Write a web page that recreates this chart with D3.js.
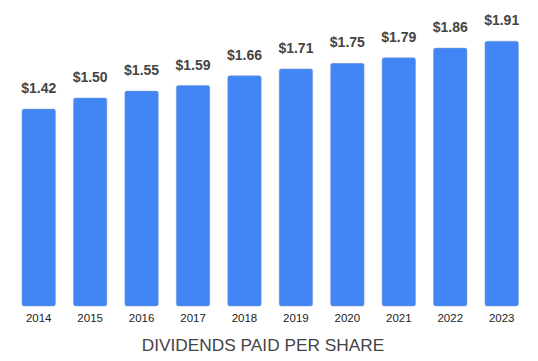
<!DOCTYPE html>
<html>
<head>
<meta charset="utf-8">
<script src="https://cdn.jsdelivr.net/npm/d3@7"></script>
<style>
  body { margin: 0; background: #fff; }
  svg { display: block; font-family: Arial, "Liberation Sans", sans-serif; }
</style>
</head>
<body>
<svg id="canvas" width="538" height="361"></svg>
<script>
// chart data
var years = ['2014', '2015', '2016', '2017', '2018', '2019', '2020', '2021', '2022', '2023'];
var dividends = [1.42, 1.50, 1.55, 1.59, 1.66, 1.71, 1.75, 1.79, 1.86, 1.91];
var chartTitle = 'DIVIDENDS PAID PER SHARE';

var canvas = d3.select('#canvas');
var width = +canvas.attr('width');
var height = +canvas.attr('height');

var baseline = 306;

var xScale = d3.scaleBand()
  .domain(years)
  .range([13, 527.4])
  .paddingInner(0.35)
  .paddingOuter(0.175);

var yScale = d3.scaleLinear()
  .domain([0, 2.2])
  .range([baseline, baseline - 2.2 * 138.65]);

var data = years.map(function(y, i) { return { year: y, value: dividends[i] }; });

// bars
canvas.selectAll('rect.bar')
  .data(data)
  .enter()
  .append('rect')
  .attr('class', 'bar')
  .attr('x', function(d) { return xScale(d.year); })
  .attr('y', function(d) { return yScale(d.value); })
  .attr('width', xScale.bandwidth())
  .attr('height', function(d) { return baseline - yScale(d.value); })
  .attr('rx', 2)
  .style('fill', '#4285F4')
  .style('stroke', '#7a9ad0')
  .style('stroke-width', 0.5);

// value labels with white halo
canvas.selectAll('text.val')
  .data(data)
  .enter()
  .append('text')
  .attr('class', 'val')
  .attr('x', function(d) { return xScale(d.year) + xScale.bandwidth() / 2; })
  .attr('y', function(d) { return yScale(d.value) - 16; })
  .attr('text-anchor', 'middle')
  .style('font-size', '14px')
  .style('font-weight', 'bold')
  .style('fill', '#444')
  .style('stroke', '#fff')
  .style('stroke-width', 3)
  .style('stroke-linejoin', 'round')
  .style('paint-order', 'stroke')
  .text(function(d) { return '$' + d.value.toFixed(2); });

// x axis (labels only)
var xAxis = d3.axisBottom(xScale).tickSize(0).tickPadding(8);
var gx = canvas.append('g')
  .attr('transform', 'translate(0,' + baseline + ')')
  .call(xAxis);
gx.select('.domain').remove();
gx.selectAll('text')
  .style('font-family', 'Arial, "Liberation Sans", sans-serif')
  .style('font-size', '11.5px')
  .style('fill', '#222');

// title
canvas.append('text')
  .attr('x', 263)
  .attr('y', 351)
  .attr('text-anchor', 'middle')
  .style('font-size', '17.3px')
  .style('fill', '#444')
  .text(chartTitle);
</script>
</body>
</html>
